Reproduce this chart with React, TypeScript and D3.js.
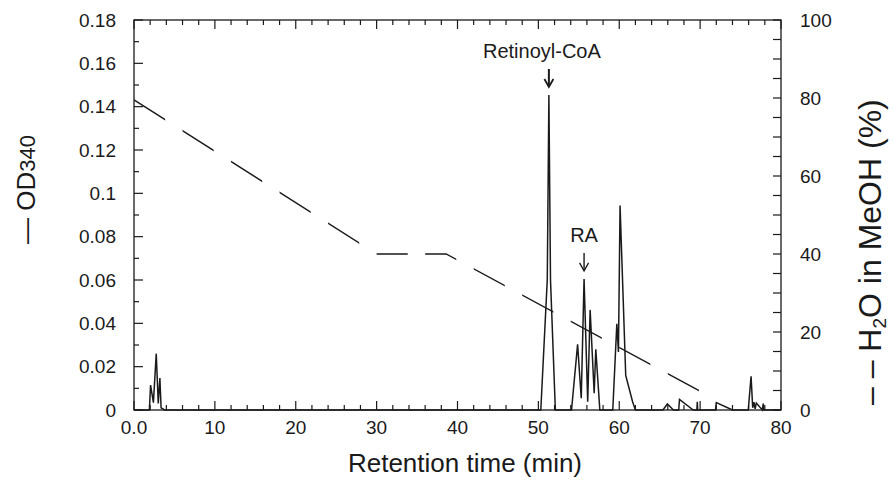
import React from "react";
import * as d3 from "d3";

// ---------- data ----------
const odTime = [
  0, 1.9, 2.05, 2.4, 2.75, 3.0, 3.2, 3.35, 3.8,
  50.3, 51.1, 51.3, 51.5, 52.1,
  54.1, 54.85, 55.3, 55.65, 56.1, 56.4, 56.9, 57.1, 57.6,
  59.2, 59.7, 59.9, 60.1, 60.8, 61.65, 62.0,
  65.4, 65.95, 66.7,
  67.35, 67.45, 69.15, 69.6, 69.65, 69.7,
  71.9, 72.0, 74.0,
  75.95, 76.3, 76.5, 76.65, 76.8, 76.95, 77.7, 77.8, 77.9, 80,
];
const odValue = [
  0, 0, 0.0115, 0.0034, 0.026, 0.003, 0.0148, 0.001, 0,
  0, 0.06, 0.1454, 0.06, 0,
  0, 0.0303, 0.0054, 0.0605, 0.0038, 0.0462, 0.0077, 0.028, 0,
  0, 0.0398, 0.0268, 0.0944, 0.016, 0.0038, 0,
  0, 0.0028, 0,
  0, 0.0049, 0, 0, 0.0038, 0,
  0, 0.0034, 0,
  0, 0.0156, 0.001, 0.0036, 0.0005, 0.0032, 0, 0.003, 0, 0,
];

const gradTime = [0, 30, 38.6, 70.1];
const gradValue = [79.5, 40, 40, 4.7];

const xTickValues = [0, 10, 20, 30, 40, 50, 60, 70, 80];
const xTickLabels = ["0.0", "10", "20", "30", "40", "50", "60", "70", "80"];
const leftTickValues = [0, 0.02, 0.04, 0.06, 0.08, 0.1, 0.12, 0.14, 0.16, 0.18];
const leftTickLabels = ["0", "0.02", "0.04", "0.06", "0.08", "0.1", "0.12", "0.14", "0.16", "0.18"];
const rightTickValues = [0, 20, 40, 60, 80, 100];
const rightTickLabels = ["0", "20", "40", "60", "80", "100"];

const peakNames = ["Retinoyl-CoA", "RA"];
const peakTimes = [51.3, 55.65];
const peakValues = [0.1454, 0.0605];

// ---------- layout / style ----------
const W = 894;
const H = 480;
const PL = 134, PR = 781, PT = 20, PB = 410;
const FONT = "'Liberation Sans', Arial, Helvetica, sans-serif";
const INK = "#1a1a1a";
const dashPeriod = 6; // minutes
const dashOn = 3.85; // minutes

export default function App() {
  const x = d3.scaleLinear().domain([0, 80]).range([PL, PR]);
  const yL = d3.scaleLinear().domain([0, 0.18]).range([PB, PT]);
  const yR = d3.scaleLinear().domain([0, 100]).range([PB, PT]);

  const odPts: [number, number][] = odTime.map((t, i) => [t, odValue[i]]);
  const gPts: [number, number][] = gradTime.map((t, i) => [t, gradValue[i]]);

  const odLine = d3.line<[number, number]>().x((d) => x(d[0])).y((d) => yL(d[1]));
  const gLine = d3.line<[number, number]>().x((d) => x(d[0])).y((d) => yR(d[1]));

  const xMinor = d3.range(0, 80.001, 2);
  const lMinor = d3.range(0, 0.1801, 0.01);
  const rMinor = d3.range(0, 100.001, 5);

  const dashStarts = d3.range(0, 80, dashPeriod);

  const isMajorX = (v: number) => Math.abs(v / 10 - Math.round(v / 10)) < 1e-6;
  const isMajorL = (v: number) => Math.abs(v / 0.02 - Math.round(v / 0.02)) < 1e-6;

  return (
    <div style={{ position: "absolute", left: 0, top: 0 }}>
      <svg width={W} height={H} style={{ display: "block", background: "#fff" }} fontFamily={FONT}>
        <defs>
          <clipPath id="dashclip">
            {dashStarts.map((s) => (
              <rect key={s} x={x(s)} y={0} width={x(s + dashOn) - x(s)} height={H} />
            ))}
          </clipPath>
        </defs>

        {/* gradient (dashed) */}
        <path d={gLine(gPts) || ""} fill="none" stroke={INK} strokeWidth={1.4} clipPath="url(#dashclip)" />

        {/* OD trace */}
        <path d={odLine(odPts) || ""} fill="none" stroke={INK} strokeWidth={1.5} strokeLinejoin="miter" />

        {/* frame */}
        <rect x={PL} y={PT} width={PR - PL} height={PB - PT} fill="none" stroke={INK} strokeWidth={1.3} />

        {/* x ticks bottom & top */}
        {xMinor.map((v) => {
          const len = isMajorX(v) ? 9 : 5;
          return (
            <g key={"x" + v} stroke={INK} strokeWidth={1.2}>
              <line x1={x(v)} x2={x(v)} y1={PB} y2={PB - len} />
              <line x1={x(v)} x2={x(v)} y1={PT} y2={PT + len} />
            </g>
          );
        })}
        {/* left ticks */}
        {lMinor.map((v) => {
          const len = isMajorL(v) ? 9 : 5;
          return <line key={"l" + v} x1={PL} x2={PL + len} y1={yL(v)} y2={yL(v)} stroke={INK} strokeWidth={1.2} />;
        })}
        {/* right ticks */}
        {rMinor.map((v) => (
          <line key={"r" + v} x1={PR} x2={PR - 8} y1={yR(v)} y2={yR(v)} stroke={INK} strokeWidth={1.2} />
        ))}

        {/* tick labels */}
        {xTickValues.map((v, i) => (
          <text key={"xl" + v} x={x(v)} y={434} textAnchor="middle" fontSize={19} fill={INK}>
            {xTickLabels[i]}
          </text>
        ))}
        {leftTickValues.map((v, i) => (
          <text key={"ll" + v} x={116} y={yL(v)} dy="0.35em" textAnchor="end" fontSize={19} fill={INK}>
            {leftTickLabels[i]}
          </text>
        ))}
        {rightTickValues.map((v, i) => (
          <text key={"rl" + v} x={800} y={yR(v)} dy="0.35em" textAnchor="start" fontSize={19} fill={INK}>
            {rightTickLabels[i]}
          </text>
        ))}

        {/* axis titles */}
        <text x={465} y={472} textAnchor="middle" fontSize={26} fill={INK}>
          Retention time (min)
        </text>
        <text transform={`translate(35,${244}) rotate(-90)`} textAnchor="start" fontSize={26} fill={INK}>
          {"— OD"}
          <tspan fontSize={22}>340</tspan>
        </text>
        <text transform={`translate(881,${405}) rotate(-90)`} textAnchor="start" fontSize={32} fill={INK}>
          {"– – H"}
          <tspan fontSize={19} dy={5}>2</tspan>
          <tspan dy={-5}>O in MeOH (%)</tspan>
        </text>

        {/* peak annotations */}
        {peakNames.map((name, i) => {
          const px = x(peakTimes[i]);
          const tip = yL(peakValues[i]) - 8;
          const tail = tip - 18;
          return (
            <g key={name}>
              <line x1={px} x2={px} y1={tail} y2={tip} stroke={INK} strokeWidth={i === 0 ? 2 : 1.4} />
              <path d={`M${px - 4.5},${tip - 8} L${px},${tip} L${px + 4.5},${tip - 8}`} fill="none" stroke={INK} strokeWidth={i === 0 ? 1.8 : 1.3} />
              <text x={px + (i === 0 ? -7 : 0)} y={tail - 11} textAnchor="middle" fontSize={20} fill={INK}>
                {name}
              </text>
            </g>
          );
        })}
      </svg>
    </div>
  );
}
